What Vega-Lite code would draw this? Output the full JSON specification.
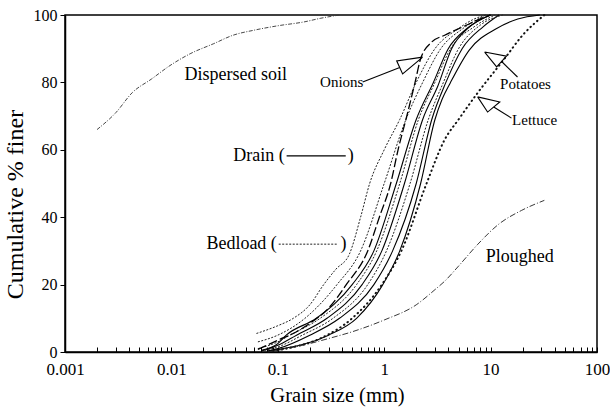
{
  "$schema": "https://vega.github.io/schema/vega-lite/v6.json",
  "width": 532,
  "height": 337,
  "autosize": {"type": "none"},
  "padding": {"left": 65, "top": 15, "right": 13, "bottom": 58},
  "background": "white",
  "config": {
    "font": "Liberation Serif",
    "view": {"stroke": "black", "strokeWidth": 1.5},
    "axis": {"grid": false, "domainColor": "black", "tickColor": "black", "labelColor": "black", "titleColor": "black", "labelFont": "Liberation Serif", "titleFont": "Liberation Serif", "titleFontWeight": "normal", "domainWidth": 1.5}
  },
  "datasets": {
    "curves": [
      {"s": "B1", "k": "bedload", "x": 0.063, "y": 5.5}, {"s": "B1", "k": "bedload", "x": 0.1, "y": 7.8}, {"s": "B1", "k": "bedload", "x": 0.14, "y": 10}, {"s": "B1", "k": "bedload", "x": 0.2, "y": 14}, {"s": "B1", "k": "bedload", "x": 0.27, "y": 20}, {"s": "B1", "k": "bedload", "x": 0.35, "y": 24.5}, {"s": "B1", "k": "bedload", "x": 0.47, "y": 29}, {"s": "B1", "k": "bedload", "x": 0.6, "y": 40}, {"s": "B1", "k": "bedload", "x": 0.73, "y": 50}, {"s": "B1", "k": "bedload", "x": 1.0, "y": 60}, {"s": "B1", "k": "bedload", "x": 1.4, "y": 69}, {"s": "B1", "k": "bedload", "x": 2.0, "y": 80}, {"s": "B1", "k": "bedload", "x": 3.0, "y": 90}, {"s": "B1", "k": "bedload", "x": 5, "y": 96}, {"s": "B1", "k": "bedload", "x": 7, "y": 98.8}, {"s": "B1", "k": "bedload", "x": 9, "y": 100},
      {"s": "B0", "k": "bedload", "x": 0.065, "y": 3}, {"s": "B0", "k": "bedload", "x": 0.1, "y": 5}, {"s": "B0", "k": "bedload", "x": 0.18, "y": 10}, {"s": "B0", "k": "bedload", "x": 0.36, "y": 20}, {"s": "B0", "k": "bedload", "x": 0.6, "y": 30}, {"s": "B0", "k": "bedload", "x": 1.0, "y": 50}, {"s": "B0", "k": "bedload", "x": 1.6, "y": 69}, {"s": "B0", "k": "bedload", "x": 2.3, "y": 80}, {"s": "B0", "k": "bedload", "x": 3.4, "y": 90}, {"s": "B0", "k": "bedload", "x": 5.5, "y": 96}, {"s": "B0", "k": "bedload", "x": 9, "y": 100},
      {"s": "Onions", "k": "onions", "x": 0.065, "y": 0.8}, {"s": "Onions", "k": "onions", "x": 0.1, "y": 3.5}, {"s": "Onions", "k": "onions", "x": 0.15, "y": 6}, {"s": "Onions", "k": "onions", "x": 0.2, "y": 8.5}, {"s": "Onions", "k": "onions", "x": 0.3, "y": 13}, {"s": "Onions", "k": "onions", "x": 0.44, "y": 20}, {"s": "Onions", "k": "onions", "x": 0.7, "y": 30}, {"s": "Onions", "k": "onions", "x": 0.9, "y": 40}, {"s": "Onions", "k": "onions", "x": 1.15, "y": 50}, {"s": "Onions", "k": "onions", "x": 1.35, "y": 60}, {"s": "Onions", "k": "onions", "x": 1.6, "y": 69}, {"s": "Onions", "k": "onions", "x": 1.95, "y": 80}, {"s": "Onions", "k": "onions", "x": 2.2, "y": 87}, {"s": "Onions", "k": "onions", "x": 2.8, "y": 92}, {"s": "Onions", "k": "onions", "x": 3.7, "y": 94}, {"s": "Onions", "k": "onions", "x": 5.5, "y": 96.5}, {"s": "Onions", "k": "onions", "x": 8.2, "y": 99}, {"s": "Onions", "k": "onions", "x": 10, "y": 100},
      {"s": "D1", "k": "drain", "x": 0.07, "y": 0.5}, {"s": "D1", "k": "drain", "x": 0.1, "y": 2.5}, {"s": "D1", "k": "drain", "x": 0.12, "y": 5}, {"s": "D1", "k": "drain", "x": 0.23, "y": 10}, {"s": "D1", "k": "drain", "x": 0.5, "y": 20}, {"s": "D1", "k": "drain", "x": 0.8, "y": 30}, {"s": "D1", "k": "drain", "x": 1.3, "y": 50}, {"s": "D1", "k": "drain", "x": 2.0, "y": 69}, {"s": "D1", "k": "drain", "x": 2.9, "y": 80}, {"s": "D1", "k": "drain", "x": 4.0, "y": 90}, {"s": "D1", "k": "drain", "x": 6, "y": 96}, {"s": "D1", "k": "drain", "x": 10, "y": 100},
      {"s": "B2", "k": "bedload", "x": 0.065, "y": 1}, {"s": "B2", "k": "bedload", "x": 0.1, "y": 3}, {"s": "B2", "k": "bedload", "x": 0.13, "y": 5}, {"s": "B2", "k": "bedload", "x": 0.25, "y": 10}, {"s": "B2", "k": "bedload", "x": 0.55, "y": 20}, {"s": "B2", "k": "bedload", "x": 0.85, "y": 30}, {"s": "B2", "k": "bedload", "x": 1.4, "y": 50}, {"s": "B2", "k": "bedload", "x": 2.1, "y": 69}, {"s": "B2", "k": "bedload", "x": 3.0, "y": 80}, {"s": "B2", "k": "bedload", "x": 4.2, "y": 90}, {"s": "B2", "k": "bedload", "x": 7, "y": 96.5}, {"s": "B2", "k": "bedload", "x": 11, "y": 100},
      {"s": "D2", "k": "drain", "x": 0.07, "y": 0.3}, {"s": "D2", "k": "drain", "x": 0.1, "y": 2}, {"s": "D2", "k": "drain", "x": 0.15, "y": 5}, {"s": "D2", "k": "drain", "x": 0.29, "y": 10}, {"s": "D2", "k": "drain", "x": 0.62, "y": 20}, {"s": "D2", "k": "drain", "x": 0.95, "y": 30}, {"s": "D2", "k": "drain", "x": 1.55, "y": 50}, {"s": "D2", "k": "drain", "x": 2.3, "y": 69}, {"s": "D2", "k": "drain", "x": 3.2, "y": 79}, {"s": "D2", "k": "drain", "x": 4.3, "y": 90}, {"s": "D2", "k": "drain", "x": 6.1, "y": 96}, {"s": "D2", "k": "drain", "x": 9.9, "y": 100},
      {"s": "B3", "k": "bedload", "x": 0.075, "y": 0.5}, {"s": "B3", "k": "bedload", "x": 0.1, "y": 1.5}, {"s": "B3", "k": "bedload", "x": 0.17, "y": 5}, {"s": "B3", "k": "bedload", "x": 0.33, "y": 10}, {"s": "B3", "k": "bedload", "x": 0.7, "y": 20}, {"s": "B3", "k": "bedload", "x": 1.05, "y": 30}, {"s": "B3", "k": "bedload", "x": 1.75, "y": 50}, {"s": "B3", "k": "bedload", "x": 2.6, "y": 69}, {"s": "B3", "k": "bedload", "x": 3.6, "y": 80}, {"s": "B3", "k": "bedload", "x": 5.0, "y": 90}, {"s": "B3", "k": "bedload", "x": 8, "y": 97}, {"s": "B3", "k": "bedload", "x": 13, "y": 100},
      {"s": "D3", "k": "drain", "x": 0.08, "y": 0.3}, {"s": "D3", "k": "drain", "x": 0.1, "y": 1}, {"s": "D3", "k": "drain", "x": 0.2, "y": 5}, {"s": "D3", "k": "drain", "x": 0.38, "y": 10}, {"s": "D3", "k": "drain", "x": 0.8, "y": 20}, {"s": "D3", "k": "drain", "x": 1.2, "y": 30}, {"s": "D3", "k": "drain", "x": 2.0, "y": 50}, {"s": "D3", "k": "drain", "x": 2.8, "y": 69}, {"s": "D3", "k": "drain", "x": 3.8, "y": 80}, {"s": "D3", "k": "drain", "x": 5.4, "y": 90}, {"s": "D3", "k": "drain", "x": 8.5, "y": 96.5}, {"s": "D3", "k": "drain", "x": 12, "y": 100},
      {"s": "Potatoes", "k": "drain", "x": 0.08, "y": 0.2}, {"s": "Potatoes", "k": "drain", "x": 0.1, "y": 0.7}, {"s": "Potatoes", "k": "drain", "x": 0.3, "y": 5}, {"s": "Potatoes", "k": "drain", "x": 0.55, "y": 10}, {"s": "Potatoes", "k": "drain", "x": 0.97, "y": 20}, {"s": "Potatoes", "k": "drain", "x": 1.4, "y": 30}, {"s": "Potatoes", "k": "drain", "x": 2.2, "y": 50}, {"s": "Potatoes", "k": "drain", "x": 3.0, "y": 69}, {"s": "Potatoes", "k": "drain", "x": 3.5, "y": 75}, {"s": "Potatoes", "k": "drain", "x": 4.2, "y": 80}, {"s": "Potatoes", "k": "drain", "x": 6.3, "y": 89.6}, {"s": "Potatoes", "k": "drain", "x": 11.4, "y": 96}, {"s": "Potatoes", "k": "drain", "x": 18, "y": 98.8}, {"s": "Potatoes", "k": "drain", "x": 29, "y": 100},
      {"s": "Lettuce", "k": "lettuce", "x": 0.09, "y": 0.2}, {"s": "Lettuce", "k": "lettuce", "x": 0.12, "y": 1}, {"s": "Lettuce", "k": "lettuce", "x": 0.25, "y": 4}, {"s": "Lettuce", "k": "lettuce", "x": 0.5, "y": 10}, {"s": "Lettuce", "k": "lettuce", "x": 0.95, "y": 20}, {"s": "Lettuce", "k": "lettuce", "x": 1.45, "y": 30}, {"s": "Lettuce", "k": "lettuce", "x": 2.5, "y": 50}, {"s": "Lettuce", "k": "lettuce", "x": 3.7, "y": 63}, {"s": "Lettuce", "k": "lettuce", "x": 5, "y": 69}, {"s": "Lettuce", "k": "lettuce", "x": 7.6, "y": 77}, {"s": "Lettuce", "k": "lettuce", "x": 13.5, "y": 87}, {"s": "Lettuce", "k": "lettuce", "x": 20, "y": 94}, {"s": "Lettuce", "k": "lettuce", "x": 32, "y": 100},
      {"s": "Dispersed", "k": "dispersed", "x": 0.002, "y": 66}, {"s": "Dispersed", "k": "dispersed", "x": 0.003, "y": 71}, {"s": "Dispersed", "k": "dispersed", "x": 0.0043, "y": 77}, {"s": "Dispersed", "k": "dispersed", "x": 0.0065, "y": 81}, {"s": "Dispersed", "k": "dispersed", "x": 0.0097, "y": 85}, {"s": "Dispersed", "k": "dispersed", "x": 0.015, "y": 88.5}, {"s": "Dispersed", "k": "dispersed", "x": 0.025, "y": 91.5}, {"s": "Dispersed", "k": "dispersed", "x": 0.038, "y": 94}, {"s": "Dispersed", "k": "dispersed", "x": 0.06, "y": 95.5}, {"s": "Dispersed", "k": "dispersed", "x": 0.1, "y": 96.8}, {"s": "Dispersed", "k": "dispersed", "x": 0.18, "y": 98}, {"s": "Dispersed", "k": "dispersed", "x": 0.25, "y": 99}, {"s": "Dispersed", "k": "dispersed", "x": 0.38, "y": 100},
      {"s": "Ploughed", "k": "ploughed", "x": 0.08, "y": 0}, {"s": "Ploughed", "k": "ploughed", "x": 0.1, "y": 0.5}, {"s": "Ploughed", "k": "ploughed", "x": 0.2, "y": 2.5}, {"s": "Ploughed", "k": "ploughed", "x": 0.3, "y": 4}, {"s": "Ploughed", "k": "ploughed", "x": 0.5, "y": 6}, {"s": "Ploughed", "k": "ploughed", "x": 1, "y": 9.5}, {"s": "Ploughed", "k": "ploughed", "x": 2, "y": 14}, {"s": "Ploughed", "k": "ploughed", "x": 3, "y": 18.5}, {"s": "Ploughed", "k": "ploughed", "x": 3.7, "y": 21}, {"s": "Ploughed", "k": "ploughed", "x": 5, "y": 25.5}, {"s": "Ploughed", "k": "ploughed", "x": 7.6, "y": 32}, {"s": "Ploughed", "k": "ploughed", "x": 12, "y": 38}, {"s": "Ploughed", "k": "ploughed", "x": 19.5, "y": 42}, {"s": "Ploughed", "k": "ploughed", "x": 32, "y": 45},
      {"s": "keyDrain", "k": "drain", "x": 0.121, "y": 58.2}, {"s": "keyDrain", "k": "drain", "x": 0.435, "y": 58.2},
      {"s": "keyBedload", "k": "bedload", "x": 0.102, "y": 32}, {"s": "keyBedload", "k": "bedload", "x": 0.366, "y": 32}
    ],
    "bigLabels": [
      {"t": "Dispersed soil", "x": 0.0403, "y": 82.2},
      {"t": "Ploughed", "x": 18.8, "y": 28.2}
    ],
    "smallLabels": [
      {"t": "Onions", "x": 0.399, "y": 80.1},
      {"t": "Potatoes", "x": 21.3, "y": 79.5},
      {"t": "Lettuce", "x": 25.9, "y": 68.9}
    ],
    "keyLabels": [
      {"t": "Drain (", "x": 0.116, "y": 58.2},
      {"t": "Bedload (", "x": 0.098, "y": 32}
    ],
    "parens": [
      {"t": ")", "x": 0.454, "y": 58.2},
      {"t": ")", "x": 0.388, "y": 32}
    ],
    "arrows": [
      {"a": "onStem", "i": 0, "x": 0.628, "y": 80.1}, {"a": "onStem", "i": 1, "x": 1.40, "y": 84.4},
      {"a": "onHead", "i": 0, "x": 2.30, "y": 87.5}, {"a": "onHead", "i": 1, "x": 1.31, "y": 86.4}, {"a": "onHead", "i": 2, "x": 1.49, "y": 82.5}, {"a": "onHead", "i": 3, "x": 2.30, "y": 87.5},
      {"a": "poStem", "i": 0, "x": 12.7, "y": 86.2}, {"a": "poStem", "i": 1, "x": 17.9, "y": 81.6},
      {"a": "poHead", "i": 0, "x": 8.79, "y": 89.0}, {"a": "poHead", "i": 1, "x": 11.4, "y": 84.6}, {"a": "poHead", "i": 2, "x": 14.1, "y": 87.8}, {"a": "poHead", "i": 3, "x": 8.79, "y": 89.0},
      {"a": "leStem", "i": 0, "x": 10.7, "y": 72.7}, {"a": "leStem", "i": 1, "x": 15.7, "y": 69.4},
      {"a": "leHead", "i": 0, "x": 7.55, "y": 75.7}, {"a": "leHead", "i": 1, "x": 9.37, "y": 71.2}, {"a": "leHead", "i": 2, "x": 12.2, "y": 74.2}, {"a": "leHead", "i": 3, "x": 7.55, "y": 75.7}
    ]
  },
  "encoding": {
    "x": {
      "field": "x", "type": "quantitative",
      "scale": {"type": "log", "domain": [0.001, 100], "nice": false},
      "axis": {
        "title": "Grain size (mm)",
        "values": [0.001, 0.002, 0.003, 0.004, 0.005, 0.006, 0.007, 0.008, 0.009, 0.01, 0.02, 0.03, 0.04, 0.05, 0.06, 0.07, 0.08, 0.09, 0.1, 0.2, 0.3, 0.4, 0.5, 0.6, 0.7, 0.8, 0.9, 1, 2, 3, 4, 5, 6, 7, 8, 9, 10, 20, 30, 40, 50, 60, 70, 80, 90, 100],
        "format": "~g",
        "labelExpr": "abs(log(datum.value)/LN10 - round(log(datum.value)/LN10)) < 0.001 ? datum.label : ''",
        "labelOverlap": false,
        "labelFlush": false,
        "labelFont": "Liberation Serif",
        "titleFont": "Liberation Serif",
        "tickSize": -5,
        "labelPadding": 14,
        "labelFontSize": 17,
        "titleFontSize": 20.5,
        "titleX": 272,
        "titleY": 49,
        "titleBaseline": "alphabetic"
      }
    },
    "y": {
      "field": "y", "type": "quantitative",
      "scale": {"domain": [0, 100], "nice": false},
      "axis": {
        "title": "Cumulative % finer",
        "values": [0, 20, 40, 60, 80, 100],
        "labelFont": "Liberation Serif",
        "titleFont": "Liberation Serif",
        "tickSize": 5,
        "labelPadding": 3,
        "labelFontSize": 16,
        "titleFontSize": 24,
        "titleX": -50,
        "titleY": 189,
        "titleBaseline": "middle"
      }
    }
  },
  "layer": [
    {"data": {"name": "curves"}, "transform": [{"filter": "datum.k == 'drain'"}], "mark": {"type": "line", "color": "black", "strokeWidth": 1.1, "interpolate": "monotone"}, "encoding": {"detail": {"field": "s"}}},
    {"data": {"name": "curves"}, "transform": [{"filter": "datum.k == 'bedload'"}], "mark": {"type": "line", "color": "#222", "strokeWidth": 1, "strokeDash": [2, 1.5], "interpolate": "monotone"}, "encoding": {"detail": {"field": "s"}}},
    {"data": {"name": "curves"}, "transform": [{"filter": "datum.k == 'onions'"}], "mark": {"type": "line", "color": "black", "strokeWidth": 1.3, "strokeDash": [9, 3], "interpolate": "monotone"}, "encoding": {"detail": {"field": "s"}}},
    {"data": {"name": "curves"}, "transform": [{"filter": "datum.k == 'lettuce'"}], "mark": {"type": "line", "color": "#111", "strokeWidth": 2, "strokeDash": [0.5, 4], "strokeCap": "round", "interpolate": "monotone"}, "encoding": {"detail": {"field": "s"}}},
    {"data": {"name": "curves"}, "transform": [{"filter": "datum.k == 'dispersed'"}], "mark": {"type": "line", "color": "#333", "strokeWidth": 0.9, "strokeDash": [4, 1.5, 1, 1.5], "interpolate": "monotone"}, "encoding": {"detail": {"field": "s"}}},
    {"data": {"name": "curves"}, "transform": [{"filter": "datum.k == 'ploughed'"}], "mark": {"type": "line", "color": "#222", "strokeWidth": 0.9, "strokeDash": [6, 2, 1, 2], "interpolate": "monotone"}, "encoding": {"detail": {"field": "s"}}},
    {"data": {"name": "arrows"}, "mark": {"type": "line", "color": "black", "strokeWidth": 1.1}, "encoding": {"detail": {"field": "a"}, "order": {"field": "i"}}},
    {"data": {"name": "bigLabels"}, "mark": {"type": "text", "font": "Liberation Serif", "fontSize": 18, "align": "center", "baseline": "middle", "color": "black"}, "encoding": {"text": {"field": "t"}}},
    {"data": {"name": "smallLabels"}, "mark": {"type": "text", "font": "Liberation Serif", "fontSize": 15, "align": "center", "baseline": "middle", "color": "black"}, "encoding": {"text": {"field": "t"}}},
    {"data": {"name": "keyLabels"}, "mark": {"type": "text", "font": "Liberation Serif", "fontSize": 18, "align": "right", "baseline": "middle", "color": "black"}, "encoding": {"text": {"field": "t"}}},
    {"data": {"name": "parens"}, "mark": {"type": "text", "font": "Liberation Serif", "fontSize": 18, "align": "left", "baseline": "middle", "color": "black"}, "encoding": {"text": {"field": "t"}}}
  ]
}
